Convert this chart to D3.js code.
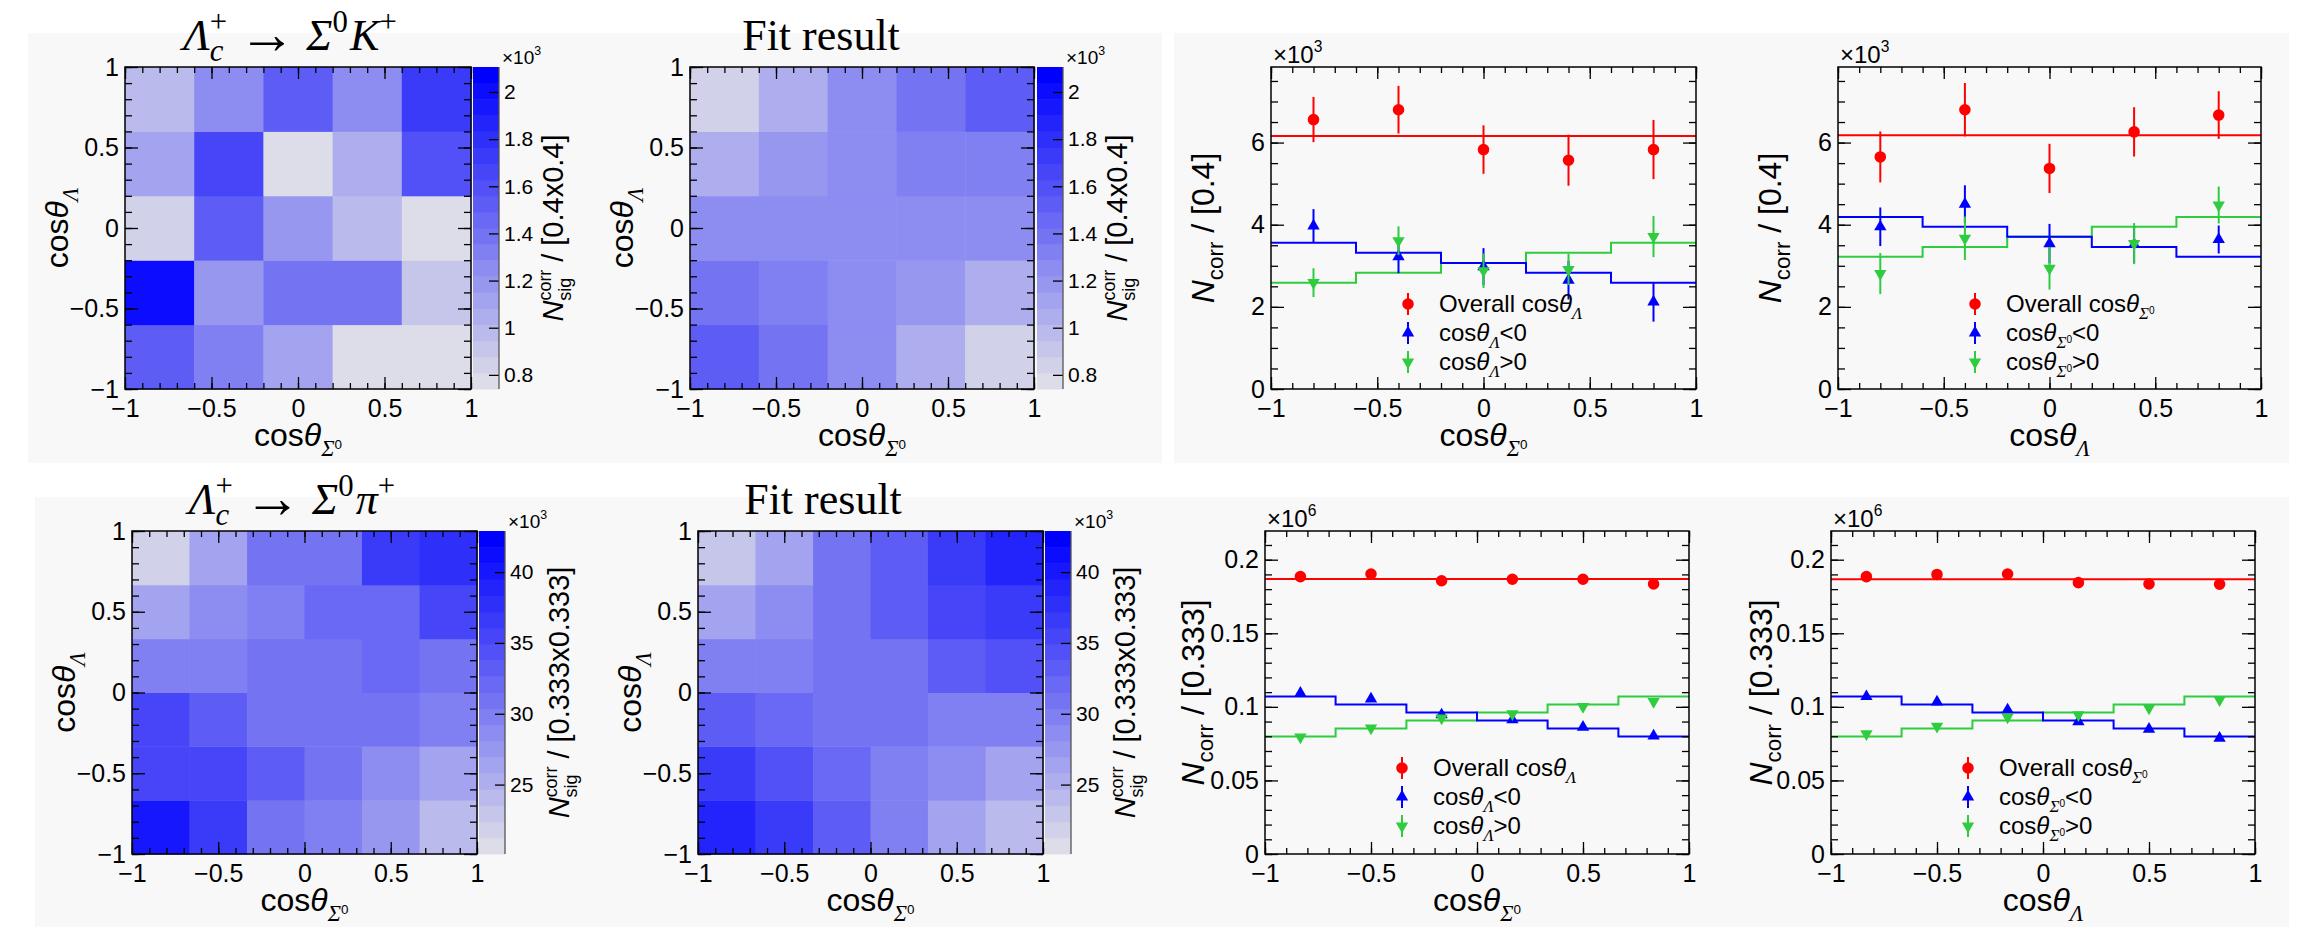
<!DOCTYPE html>
<html>
<head>
<meta charset="utf-8">
<script src="https://cdn.jsdelivr.net/npm/d3@7"></script>
<style>
  body { margin: 0; background: #fff; }
  svg { display: block; }
</style>
</head>
<body>
<script>
////////////////////////////////////////////////////////////////////////
// Data

// bin edges and bin centres of the two binnings
const kEdges = [-1, -0.6, -0.2, 0.2, 0.6, 1];
const kCenters = [-0.8, -0.4, 0, 0.4, 0.8];
const piEdges = [-1, -0.667, -0.333, 0, 0.333, 0.667, 1];
const piCenters = [-0.833, -0.5, -0.167, 0.167, 0.5, 0.833];

// 2D yields (x10^3): rows are cos(theta_Lambda) bins from -1 upward,
// columns are cos(theta_Sigma0) bins from -1 to 1
const kDataYield = [
  [1.55, 1.33, 1.13, 0.80, 0.79],
  [2.03, 1.17, 1.38, 1.42, 0.89],
  [0.85, 1.55, 1.16, 0.99, 0.80],
  [1.10, 1.65, 0.79, 1.08, 1.57],
  [0.96, 1.25, 1.50, 1.25, 1.76]
];
const kFitYield = [
  [1.51, 1.36, 1.23, 1.02, 0.87],
  [1.36, 1.31, 1.23, 1.17, 1.05],
  [1.23, 1.23, 1.23, 1.23, 1.23],
  [1.03, 1.17, 1.23, 1.31, 1.31],
  [0.87, 1.03, 1.23, 1.36, 1.51]
];
const piDataYield = [
  [40.3, 36.7, 30.4, 29.5, 27.4, 23.7],
  [36.0, 36.0, 33.0, 31.0, 28.4, 25.8],
  [35.0, 33.6, 30.4, 30.4, 30.4, 30.0],
  [29.8, 29.8, 30.4, 30.4, 32.5, 31.0],
  [25.8, 28.4, 30.0, 32.5, 32.5, 35.0],
  [22.2, 25.8, 30.4, 30.4, 36.7, 38.3]
];
const piFitYield = [
  [38.8, 36.2, 33.6, 30.0, 25.8, 23.7],
  [36.2, 34.6, 32.5, 30.0, 28.4, 25.8],
  [33.6, 32.5, 30.4, 30.4, 29.4, 29.4],
  [29.4, 29.4, 30.4, 30.4, 33.0, 34.0],
  [25.8, 28.4, 30.4, 33.0, 35.0, 36.2],
  [23.2, 25.8, 30.4, 33.6, 36.2, 38.8]
];

// colour bar ranges and labels
const kZRange = [0.74, 2.106];
const kZTicks = [0.8, 1, 1.2, 1.4, 1.6, 1.8, 2];
const piZRange = [20.1, 42.9];
const piZTicks = [25, 30, 35, 40];

// 1D projections, K+ mode (x10^3), versus cos(theta_Sigma0)
const kSigOverall = [6.56, 6.80, 5.83, 5.57, 5.83];
const kSigOverallErr = [0.55, 0.58, 0.59, 0.62, 0.72];
const kSigNeg = [3.97, 3.22, 2.98, 2.65, 2.12];
const kSigNegErr = [0.41, 0.40, 0.45, 0.47, 0.48];
const kSigPos = [2.59, 3.61, 2.88, 2.91, 3.71];
const kSigPosErr = [0.35, 0.35, 0.42, 0.38, 0.50];
const kSigNegFit = [3.56, 3.32, 3.07, 2.83, 2.59];
const kSigPosFit = [2.59, 2.83, 3.07, 3.32, 3.56];
const kSigFlat = 6.16;

// K+ mode versus cos(theta_Lambda)
const kLamOverall = [5.65, 6.80, 5.37, 6.26, 6.67];
const kLamOverallErr = [0.62, 0.65, 0.60, 0.60, 0.58];
const kLamNeg = [3.95, 4.50, 3.54, 3.52, 3.64];
const kLamNegErr = [0.47, 0.46, 0.48, 0.45, 0.34];
const kLamPos = [2.81, 3.67, 2.94, 3.54, 4.48];
const kLamPosErr = [0.50, 0.53, 0.52, 0.50, 0.45];
const kLamNegFit = [4.19, 3.95, 3.71, 3.46, 3.22];
const kLamPosFit = [3.22, 3.46, 3.71, 3.95, 4.19];
const kLamFlat = 6.18;

// pi+ mode (x10^6), versus cos(theta_Sigma0)
const piSigOverall = [0.1885, 0.1903, 0.1857, 0.1867, 0.1867, 0.1835];
const piSigOverallErr = [0.0025, 0.0025, 0.0025, 0.0025, 0.0025, 0.0025];
const piSigNeg = [0.1093, 0.1054, 0.0946, 0.0912, 0.0862, 0.0803];
const piSigNegErr = [0.0018, 0.0018, 0.0018, 0.0018, 0.0018, 0.0018];
const piSigPos = [0.0794, 0.0855, 0.0923, 0.0952, 0.1002, 0.1036];
const piSigPosErr = [0.0018, 0.0018, 0.0018, 0.0018, 0.0018, 0.0018];
const piSigNegFit = [0.1070, 0.1016, 0.0962, 0.0907, 0.0853, 0.0799];
const piSigPosFit = [0.0799, 0.0853, 0.0907, 0.0962, 0.1016, 0.1070];
const piSigFlat = 0.1869;

// pi+ mode versus cos(theta_Lambda)
const piLamOverall = [0.1885, 0.1900, 0.1903, 0.1844, 0.1835, 0.1833];
const piLamOverallErr = [0.0025, 0.0025, 0.0025, 0.0025, 0.0025, 0.0025];
const piLamNeg = [0.1070, 0.1034, 0.0980, 0.0900, 0.0848, 0.0787];
const piLamNegErr = [0.0018, 0.0018, 0.0018, 0.0018, 0.0018, 0.0018];
const piLamPos = [0.0817, 0.0867, 0.0930, 0.0946, 0.0991, 0.1048];
const piLamPosErr = [0.0018, 0.0018, 0.0018, 0.0018, 0.0018, 0.0018];
const piLamNegFit = [0.1070, 0.1016, 0.0962, 0.0907, 0.0853, 0.0799];
const piLamPosFit = [0.0799, 0.0853, 0.0907, 0.0962, 0.1016, 0.1070];
const piLamFlat = 0.1867;

// axis ticks
const cosMajor = [-1, -0.5, 0, 0.5, 1];
const kYMajor = [0, 2, 4, 6];
const piYMajor = [0, 0.05, 0.1, 0.15, 0.2];


////////////////////////////////////////////////////////////////////////
// Styles and helpers

const SANS = "'Liberation Sans', Arial, Helvetica, sans-serif";
const SERIF = "'Liberation Serif', 'DejaVu Serif', 'Times New Roman', serif";
const RED = "#ff0000", BLUE = "#0000ff", GREEN = "#2fcc3f";
const LABEL = 25, TITLE = 32, LEGEND = 24;
const fmt = d3.format("~g");
const palette = d3.interpolateRgb("rgb(221,221,233)", "rgb(0,0,255)");
const NLEVELS = 20;

let svg = d3.select("body").append("svg")
  .attr("width", 2304).attr("height", 936)
  .style("font-family", SANS);

// the light grey slide panels behind the plots
[[28, 33, 1162, 463], [1174, 33, 2289, 463], [35, 497, 2289, 927]].forEach(function(r) {
  svg.append("rect")
    .attr("x", r[0]).attr("y", r[1])
    .attr("width", r[2] - r[0]).attr("height", r[3] - r[1])
    .attr("fill", "#f8f8f8");
});

// text built from parts: shift and dx are in units of the base size
function rich(text, parts, size) {
  let cur = 0;
  parts.forEach(function(p) {
    let shift = (p.shift || 0) * size;
    let ts = text.append("tspan")
      .attr("dy", shift - cur)
      .style("font-size", (p.scale || 1) * size + "px")
      .text(p.t);
    if (p.dx) ts.attr("dx", p.dx * size);
    if (p.it) ts.style("font-style", "italic");
    if (p.serif) ts.style("font-family", SERIF);
    cur = shift;
  });
  return text;
}

// cos(theta) with a Lambda or Sigma0 subscript
function cosTheta(v) {
  let parts = [{t: "cos"}, {t: "θ", it: true}];
  if (v == "lam") {
    parts.push({t: "Λ", it: true, serif: true, scale: 0.7, shift: 0.3});
  } else {
    parts.push({t: "Σ", it: true, serif: true, scale: 0.7, shift: 0.3});
    parts.push({t: "0", scale: 0.42, shift: 0.08});
  }
  return parts;
}

function decayTitle(last) {
  return [
    {t: "Λ", it: true, serif: true},
    {t: "c", it: true, serif: true, scale: 0.7, shift: 0.25},
    {t: "+", serif: true, scale: 0.7, shift: -0.42, dx: -0.31},
    {t: " ", serif: true, shift: 0},
    {t: "→", serif: true, scale: 1.3, shift: 0.06},
    {t: " ", serif: true, shift: 0},
    {t: "Σ", it: true, serif: true},
    {t: "0", serif: true, scale: 0.7, shift: -0.42},
    {t: last, it: true, serif: true, shift: 0, dx: 0.05},
    {t: "+", serif: true, scale: 0.7, shift: -0.42}
  ];
}

// one d3 axis drawn ROOT style (ticks inside the frame)
function addAxis(g, axisFn, scale, tx, ty, values, len, withLabels, pad) {
  let ax = axisFn(scale).tickValues(values).tickSize(-len).tickPadding(pad || 8);
  ax.tickFormat(withLabels ? fmt : "");
  let a = g.append("g")
    .attr("transform", "translate(" + tx + "," + ty + ")")
    .call(ax);
  a.select(".domain").remove();
  a.selectAll("line").attr("stroke", "#000").attr("stroke-width", 1.3);
  a.attr("font-size", LABEL).attr("font-family", SANS);
  a.selectAll("text").attr("fill", "#000");
  return a;
}

function frameAxes(g, xs, ys, f, yMajor, yMinor, xPad, yPad) {
  let xMinor = d3.range(-1, 1.0001, 0.1);
  addAxis(g, d3.axisBottom, xs, 0, f[3], xMinor, 6, false);
  addAxis(g, d3.axisBottom, xs, 0, f[3], cosMajor, 12, true, xPad);
  addAxis(g, d3.axisTop, xs, 0, f[1], xMinor, 6, false);
  addAxis(g, d3.axisTop, xs, 0, f[1], cosMajor, 12, false);
  addAxis(g, d3.axisLeft, ys, f[0], 0, yMinor, 7, false);
  addAxis(g, d3.axisLeft, ys, f[0], 0, yMajor, 13, true, yPad);
  addAxis(g, d3.axisRight, ys, f[2], 0, yMinor, 7, false);
  addAxis(g, d3.axisRight, ys, f[2], 0, yMajor, 13, false);
  g.append("rect")
    .attr("x", f[0]).attr("y", f[1])
    .attr("width", f[2] - f[0]).attr("height", f[3] - f[1])
    .attr("fill", "none").attr("stroke", "#000").attr("stroke-width", 1.5);
}

function yTitle(g, x, y, parts) {
  let t = g.append("text")
    .attr("transform", "translate(" + x + "," + y + ") rotate(-90)")
    .attr("text-anchor", "middle");
  rich(t, parts, TITLE);
}

function xTitle(g, x, y, parts) {
  let t = g.append("text").attr("x", x).attr("y", y).attr("text-anchor", "middle");
  rich(t, parts, TITLE);
}

function expLabel(g, x, y, p, size) {
  let t = g.append("text").attr("x", x).attr("y", y);
  rich(t, [{t: "×10"}, {t: p, scale: 0.65, shift: -0.45}], size);
}


////////////////////////////////////////////////////////////////////////
// 2D colour maps

let heatmaps = [
  {f: [125, 67, 471, 389], cb: [473, 499], edges: kEdges, z: kDataYield, zr: kZRange, zt: kZTicks,
   title: decayTitle("K"), tx: 290, ty: 50, bin: "[0.4x0.4]"},
  {f: [690, 67, 1034, 389], cb: [1037, 1063], edges: kEdges, z: kFitYield, zr: kZRange, zt: kZTicks,
   title: [{t: "Fit result", serif: true}], tx: 821, ty: 50, bin: "[0.4x0.4]"},
  {f: [132, 531, 477, 854], cb: [479, 505], edges: piEdges, z: piDataYield, zr: piZRange, zt: piZTicks,
   title: decayTitle("π"), tx: 292, ty: 514, bin: "[0.333x0.333]"},
  {f: [698, 531, 1043, 854], cb: [1045, 1071], edges: piEdges, z: piFitYield, zr: piZRange, zt: piZTicks,
   title: [{t: "Fit result", serif: true}], tx: 823, ty: 514, bin: "[0.333x0.333]"}
];

function levelColor(v, zr) {
  let k = Math.floor((v - zr[0]) / (zr[1] - zr[0]) * NLEVELS);
  k = Math.max(0, Math.min(NLEVELS - 1, k));
  return palette(k / (NLEVELS - 1));
}

heatmaps.forEach(function(h) {
  let f = h.f;
  let g = svg.append("g");
  let xs = d3.scaleLinear().domain([-1, 1]).range([f[0], f[2]]);
  let ys = d3.scaleLinear().domain([-1, 1]).range([f[3], f[1]]);

  let cells = [];
  h.z.forEach(function(row, j) {
    row.forEach(function(v, i) { cells.push({i: i, j: j, v: v}); });
  });
  g.selectAll(".cell").data(cells).enter().append("rect")
    .attr("class", "cell")
    .attr("x", function(d) { return xs(h.edges[d.i]); })
    .attr("y", function(d) { return ys(h.edges[d.j + 1]); })
    .attr("width", function(d) { return xs(h.edges[d.i + 1]) - xs(h.edges[d.i]) + 0.5; })
    .attr("height", function(d) { return ys(h.edges[d.j]) - ys(h.edges[d.j + 1]) + 0.5; })
    .attr("fill", function(d) { return levelColor(d.v, h.zr); });

  frameAxes(g, xs, ys, f, cosMajor, d3.range(-1, 1.0001, 0.1), 10, 6);

  // colour bar
  let cs = d3.scaleLinear().domain(h.zr).range([f[3], f[1]]);
  let step = (h.zr[1] - h.zr[0]) / NLEVELS;
  g.selectAll(".band").data(d3.range(NLEVELS)).enter().append("rect")
    .attr("class", "band")
    .attr("x", h.cb[0]).attr("width", h.cb[1] - h.cb[0])
    .attr("y", function(k) { return cs(h.zr[0] + (k + 1) * step); })
    .attr("height", function(k) { return cs(h.zr[0] + k * step) - cs(h.zr[0] + (k + 1) * step) + 0.5; })
    .attr("fill", function(k) { return palette(k / (NLEVELS - 1)); });
  let ca = addAxis(g, d3.axisRight, cs, h.cb[1], 0, h.zt, 10, true, 5);
  ca.attr("font-size", 21);
  g.append("line")
    .attr("x1", h.cb[1]).attr("x2", h.cb[1]).attr("y1", f[1]).attr("y2", f[3])
    .attr("stroke", "#555").attr("stroke-width", 1.3);
  expLabel(g, h.cb[1] + 3, f[1] - 3, "3", 19);

  // colour bar title
  let ct = g.append("text")
    .attr("transform", "translate(" + (h.cb[1] + 64) + "," + ((f[1] + f[3]) / 2) + ") rotate(-90)")
    .attr("text-anchor", "middle");
  rich(ct, [
    {t: "N", it: true},
    {t: "corr", scale: 0.62, shift: -0.42},
    {t: "sig", scale: 0.62, shift: 0.28, dx: -1.07},
    {t: " / " + h.bin, shift: 0, dx: 0.27}
  ], 29);

  // titles
  let tt = g.append("text").attr("x", h.tx).attr("y", h.ty)
    .attr("text-anchor", "middle").style("font-family", SERIF);
  rich(tt, h.title, 44);
  yTitle(g, f[0] - 57, (f[1] + f[3]) / 2, cosTheta("lam"));
  xTitle(g, (f[0] + f[2]) / 2, f[3] + 57, cosTheta("sig"));
});


////////////////////////////////////////////////////////////////////////
// 1D projections

let projections = [
  {f: [1271, 67, 1696, 389], edges: kEdges, c: kCenters, yMax: 7.84, yMajor: kYMajor,
   yMinor: d3.range(0, 7.84, 0.5), expDigit: "3", bin: "[0.4]", yOff: 57,
   overall: kSigOverall, overallErr: kSigOverallErr, neg: kSigNeg, negErr: kSigNegErr,
   pos: kSigPos, posErr: kSigPosErr, negFit: kSigNegFit, posFit: kSigPosFit, flat: kSigFlat,
   xv: "sig", lv: "lam"},
  {f: [1838, 67, 2261, 389], edges: kEdges, c: kCenters, yMax: 7.84, yMajor: kYMajor,
   yMinor: d3.range(0, 7.84, 0.5), expDigit: "3", bin: "[0.4]", yOff: 57,
   overall: kLamOverall, overallErr: kLamOverallErr, neg: kLamNeg, negErr: kLamNegErr,
   pos: kLamPos, posErr: kLamPosErr, negFit: kLamNegFit, posFit: kLamPosFit, flat: kLamFlat,
   xv: "lam", lv: "sig"},
  {f: [1265, 531, 1689, 854], edges: piEdges, c: piCenters, yMax: 0.2195, yMajor: piYMajor,
   yMinor: d3.range(0, 0.2195, 0.01), expDigit: "6", bin: "[0.333]", yOff: 61,
   overall: piSigOverall, overallErr: piSigOverallErr, neg: piSigNeg, negErr: piSigNegErr,
   pos: piSigPos, posErr: piSigPosErr, negFit: piSigNegFit, posFit: piSigPosFit, flat: piSigFlat,
   xv: "sig", lv: "lam"},
  {f: [1831, 531, 2255, 854], edges: piEdges, c: piCenters, yMax: 0.2195, yMajor: piYMajor,
   yMinor: d3.range(0, 0.2195, 0.01), expDigit: "6", bin: "[0.333]", yOff: 59,
   overall: piLamOverall, overallErr: piLamOverallErr, neg: piLamNeg, negErr: piLamNegErr,
   pos: piLamPos, posErr: piLamPosErr, negFit: piLamNegFit, posFit: piLamPosFit, flat: piLamFlat,
   xv: "lam", lv: "sig"}
];

const circle = d3.symbol(d3.symbolCircle, 105);
const triangle = d3.symbol(d3.symbolTriangle, 66);

function markers(g, xs, ys, centers, vals, errs, color, shape, rot) {
  let pts = centers.map(function(c, i) { return {x: c, v: vals[i], e: errs[i]}; });
  g.selectAll(null).data(pts).enter().append("line")
    .attr("x1", function(d) { return xs(d.x); })
    .attr("x2", function(d) { return xs(d.x); })
    .attr("y1", function(d) { return ys(d.v - d.e); })
    .attr("y2", function(d) { return ys(d.v + d.e); })
    .attr("stroke", color).attr("stroke-width", 2);
  g.selectAll(null).data(pts).enter().append("path")
    .attr("d", shape)
    .attr("transform", function(d) {
      return "translate(" + xs(d.x) + "," + ys(d.v) + ") rotate(" + rot + ")";
    })
    .attr("fill", color);
}

projections.forEach(function(p) {
  let f = p.f;
  let g = svg.append("g");
  let xs = d3.scaleLinear().domain([-1, 1]).range([f[0], f[2]]);
  let ys = d3.scaleLinear().domain([0, p.yMax]).range([f[3], f[1]]);

  let stepLine = d3.line()
    .x(function(d) { return xs(d[0]); })
    .y(function(d) { return ys(d[1]); })
    .curve(d3.curveStepAfter);
  function stepPts(vals) {
    let pts = vals.map(function(v, i) { return [p.edges[i], v]; });
    pts.push([p.edges[vals.length], vals[vals.length - 1]]);
    return pts;
  }
  g.append("path").attr("d", stepLine(stepPts(p.posFit)))
    .attr("fill", "none").attr("stroke", GREEN).attr("stroke-width", 2);
  g.append("path").attr("d", stepLine(stepPts(p.negFit)))
    .attr("fill", "none").attr("stroke", BLUE).attr("stroke-width", 2);
  g.append("path").attr("d", d3.line()([[xs(-1), ys(p.flat)], [xs(1), ys(p.flat)]]))
    .attr("fill", "none").attr("stroke", RED).attr("stroke-width", 2);

  markers(g, xs, ys, p.c, p.overall, p.overallErr, RED, circle, 0);
  markers(g, xs, ys, p.c, p.neg, p.negErr, BLUE, triangle, 0);
  markers(g, xs, ys, p.c, p.pos, p.posErr, GREEN, triangle, 180);

  frameAxes(g, xs, ys, f, p.yMajor, p.yMinor, 10, 6);
  expLabel(g, f[0] + 2, f[1] - 4, p.expDigit, 24);

  // legend
  let items = [
    {color: RED, shape: circle, rot: 0, parts: [{t: "Overall "}].concat(cosTheta(p.lv))},
    {color: BLUE, shape: triangle, rot: 0, parts: cosTheta(p.lv).concat([{t: "<0", shift: 0}])},
    {color: GREEN, shape: triangle, rot: 180, parts: cosTheta(p.lv).concat([{t: ">0", shift: 0}])}
  ];
  items.forEach(function(it, k) {
    let ly = f[1] + 237 + 29 * k, lx = f[0] + 137;
    g.append("line").attr("x1", lx).attr("x2", lx).attr("y1", ly - 11).attr("y2", ly + 11)
      .attr("stroke", it.color).attr("stroke-width", 2);
    g.append("path").attr("d", it.shape)
      .attr("transform", "translate(" + lx + "," + ly + ") rotate(" + it.rot + ")")
      .attr("fill", it.color);
    let t = g.append("text").attr("x", f[0] + 168).attr("y", ly + 8);
    rich(t, it.parts, LEGEND);
  });

  yTitle(g, f[0] - p.yOff, (f[1] + f[3]) / 2, [
    {t: "N", it: true},
    {t: "corr", scale: 0.7, shift: 0.28},
    {t: " / " + p.bin, shift: 0}
  ]);
  xTitle(g, (f[0] + f[2]) / 2, f[3] + 57, cosTheta(p.xv));
});
</script>
</body>
</html>
